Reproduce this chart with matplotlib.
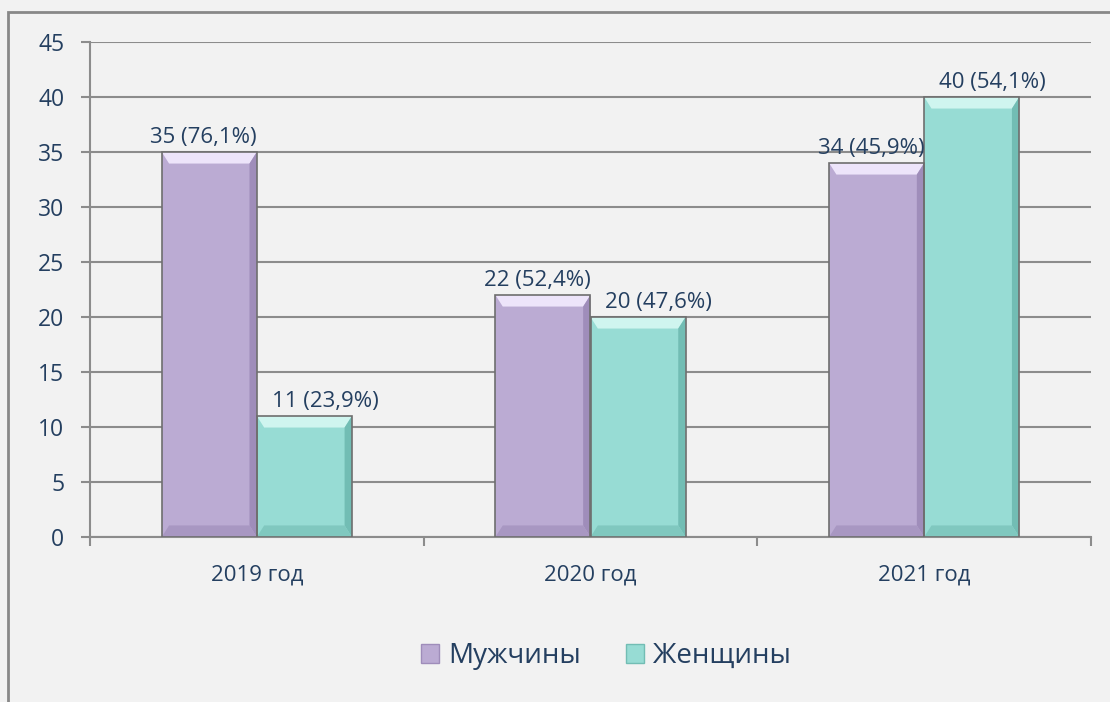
import matplotlib.pyplot as plt
import matplotlib.patches as mpatches
import numpy as np

plt.rcParams['font.family'] = ['Open Sans', 'DejaVu Sans']

# data
years = ["2019 год", "2020 год", "2021 год"]
men = [35, 22, 34]
women = [11, 20, 40]
men_lbl = ["35 (76,1%)", "22 (52,4%)", "34 (45,9%)"]
women_lbl = ["11 (23,9%)", "20 (47,6%)", "40 (54,1%)"]
series_names = ["Мужчины", "Женщины"]

txt = '#243F60'
grid_c = '#8C8C8C'
bg = '#F2F2F2'
# base, light top, dark side, dark bottom
pal = {
    'men': ('#BBABD3', '#EDE4FA', '#9F8DBA', '#A897C2'),
    'women': ('#97DCD4', '#CFF5EF', '#72BDB4', '#80C8BF'),
}

fig = plt.figure(figsize=(11.1, 7.02), dpi=100, facecolor=bg)
ax = fig.add_axes([90/1110, 1-537/702, 1001/1110, 495/702])
ax.set_facecolor(bg)

# outer border (goes off the right / bottom of the image)
fig.patches.append(mpatches.Rectangle((8/1110, -0.05), 1.2, 1-12/702+0.05,
                                      transform=fig.transFigure, fill=False,
                                      edgecolor='#888888', lw=2, zorder=0))

ax.set_xlim(0, 3)
ax.set_ylim(0, 45)
ax.set_yticks(np.arange(0, 46, 5))
ax.set_xticks([0.5, 1.5, 2.5])
ax.set_xticklabels(years)
ax.set_xticks([0, 1, 2, 3], minor=True)
ax.tick_params(axis='x', which='major', length=0, pad=20, labelsize=16, labelcolor=txt)
ax.tick_params(axis='x', which='minor', length=6.5, width=1.5, color=grid_c, direction='out')
ax.tick_params(axis='y', length=6.5, width=1.5, color=grid_c, pad=12, labelsize=16.5, labelcolor=txt)
ax.grid(axis='y', color=grid_c, lw=1.5)
ax.set_axisbelow(True)
for s in ['top', 'right']:
    ax.spines[s].set_visible(False)
for s in ['left', 'bottom']:
    ax.spines[s].set_color(grid_c)
    ax.spines[s].set_linewidth(1.5)

bw = 0.285
bx = 0.022  # bevel in x (data units)
by = 1.05   # bevel in y (data units)


def bevel_bar(x0, h, cols):
    base, light, dark, bot = cols
    x1 = x0 + bw
    ax.add_patch(mpatches.Rectangle((x0, 0), bw, h, facecolor=base, edgecolor='none', zorder=3))
    # top face
    ax.add_patch(mpatches.Polygon([(x0, h), (x1, h), (x1 - bx, h - by), (x0 + bx, h - by)],
                                  facecolor=light, edgecolor='none', zorder=4))
    # right side
    ax.add_patch(mpatches.Polygon([(x1, h), (x1, 0), (x1 - bx, by), (x1 - bx, h - by)],
                                  facecolor=dark, edgecolor='none', zorder=4))
    # bottom
    ax.add_patch(mpatches.Polygon([(x0, 0), (x1, 0), (x1 - bx, by), (x0 + bx, by)],
                                  facecolor=bot, edgecolor='none', zorder=4))
    # outline shadow
    ax.add_patch(mpatches.Rectangle((x0, 0), bw, h, facecolor='none', edgecolor='#6E6E6E',
                                    lw=1.2, zorder=5))


for i in range(3):
    c = i + 0.5
    bevel_bar(c - bw, men[i], pal['men'])
    bevel_bar(c, women[i], pal['women'])
    # excel nudges the labels sideways a bit
    ax.annotate(men_lbl[i], (c - bw/2, men[i]), xytext=(-4, 3), textcoords='offset points',
                ha='center', va='bottom', fontsize=16, color=txt, zorder=6)
    ax.annotate(women_lbl[i], (c + bw/2, women[i]), xytext=(15, 3), textcoords='offset points',
                ha='center', va='bottom', fontsize=16, color=txt, zorder=6)

# legend with bevel squares
handles = [mpatches.Patch(facecolor=pal['men'][0], edgecolor=pal['men'][2]),
           mpatches.Patch(facecolor=pal['women'][0], edgecolor=pal['women'][2])]
leg = fig.legend(handles, series_names, loc='center', bbox_to_anchor=(606/1110, 1-656/702),
                 ncol=2, frameon=False, fontsize=20, handlelength=0.65, handleheight=0.65,
                 handletextpad=0.3, columnspacing=1.65)
for t in leg.get_texts():
    t.set_color(txt)

fig.savefig('out.png', dpi=100, facecolor=bg)
